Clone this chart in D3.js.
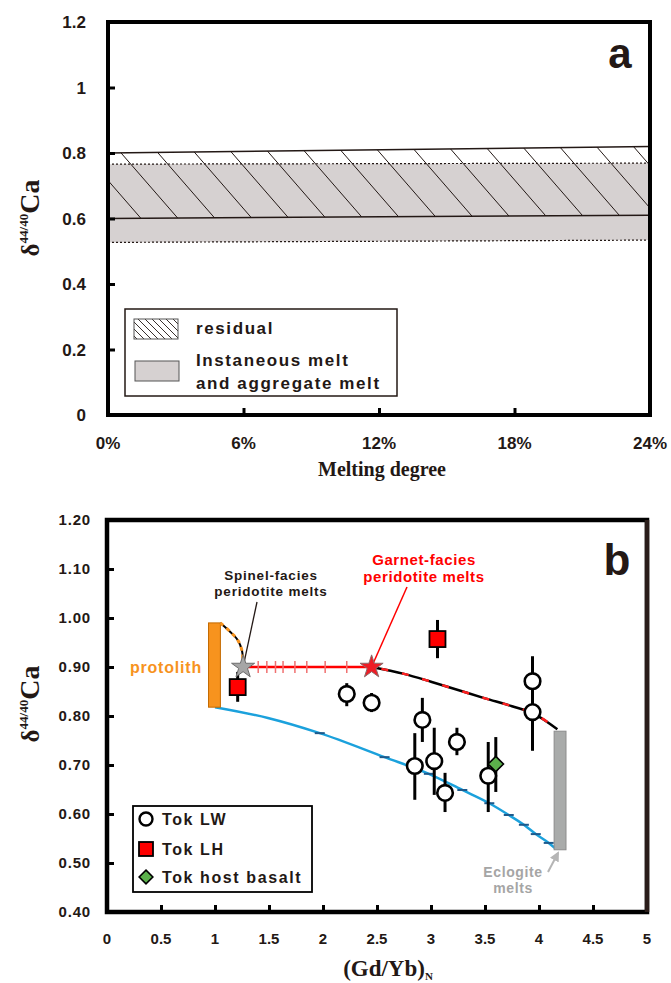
<!DOCTYPE html>
<html>
<head>
<meta charset="utf-8">
<script src="https://cdn.jsdelivr.net/npm/d3@7"></script>
<style>
  body { margin: 0; background: #fff; }
  text { font-family: "Liberation Sans", Arial, sans-serif; font-weight: bold; fill: #231815; }
  .serif { font-family: "Liberation Serif", "Times New Roman", serif; }
</style>
</head>
<body>
<svg id="fig" width="671" height="983"></svg>
<script>
// ---- panel a data ----
let degTicks = [0, 6, 12, 18, 24];
let degLabels = ['0%', '6%', '12%', '18%', '24%'];
let caTicksA = [0, 0.2, 0.4, 0.6, 0.8, 1.0, 1.2];
let caLabelsA = ['0', '0.2', '0.4', '0.6', '0.8', '1', '1.2'];
let bandDeg = [0, 24];
let residualTop = [0.80, 0.82];
let residualBot = [0.60, 0.61];
let meltTop = [0.766, 0.769];
let meltBot = [0.527, 0.534];

// ---- panel b data ----
let gdTicks = [0, 0.5, 1, 1.5, 2, 2.5, 3, 3.5, 4, 4.5, 5];
let caTicksB = [0.4, 0.5, 0.6, 0.7, 0.8, 0.9, 1.0, 1.1, 1.2];

let lwGd = [2.22, 2.45, 2.92, 2.85, 3.03, 3.13, 3.24, 3.53, 3.94, 3.94];
let lwCa = [0.845, 0.827, 0.792, 0.698, 0.708, 0.643, 0.747, 0.678, 0.871, 0.808];
let lwLo = [0.820, 0.808, 0.747, 0.629, 0.639, 0.604, 0.720, 0.604, 0.840, 0.729];
let lwHi = [0.867, 0.847, 0.837, 0.765, 0.776, 0.684, 0.776, 0.747, 0.922, 0.850];

let lhGd = [1.21, 3.06];
let lhCa = [0.859, 0.957];
let lhLo = [0.829, 0.918];
let lhHi = [0.890, 0.996];

let hostGd = [3.60];
let hostCa = [0.702];
let hostLo = [0.645];
let hostHi = [0.757];

let protolithGd = [0.94, 1.05];
let protolithCa = [0.818, 0.99];
let eclogiteGd = [4.14, 4.25];
let eclogiteCa = [0.527, 0.769];

let spinelGd = [1.05, 1.14, 1.21, 1.25, 1.26];
let spinelCa = [0.99, 0.972, 0.955, 0.933, 0.90];

let stepGd = [1.26, 2.45];
let stepCa = [0.90, 0.90];
let stepTicks = [1.40, 1.48, 1.56, 1.63, 1.74, 1.85, 2.02, 2.22];

let garnetGd = [2.45, 2.75, 3.0, 3.25, 3.5, 3.75, 3.95, 4.17];
let garnetCa = [0.90, 0.886, 0.870, 0.853, 0.836, 0.820, 0.805, 0.773];

let eclGd = [1.0, 1.49, 1.97, 2.57, 2.98, 3.29, 3.54, 3.72, 3.86, 3.97, 4.09, 4.15];
let eclCa = [0.818, 0.796, 0.765, 0.716, 0.682, 0.649, 0.622, 0.598, 0.578, 0.559, 0.541, 0.530];
let eclTickIdx = [2, 3, 4, 5, 6, 7, 8, 9, 10];

let ink = '#231815';
let svg = d3.select('#fig');

// ================= panel a =================
let xa = d3.scaleLinear().domain([0, 24]).range([108, 650]);
let ya = d3.scaleLinear().domain([0, 1.2]).range([415, 22]);
let ga = svg.append('g');

let bandArea = d3.area()
    .x(d => xa(d[0]))
    .y0(d => ya(d[1]))
    .y1(d => ya(d[2]));
let lineA = d3.line().x(d => xa(d[0])).y(d => ya(d[1]));

ga.append('path')
    .datum(bandDeg.map((d, i) => [d, meltBot[i], meltTop[i]]))
    .attr('d', bandArea)
    .attr('fill', '#d6d1d1');

[meltTop, meltBot].forEach(s => {
    ga.append('path')
        .datum(bandDeg.map((d, i) => [d, s[i]]))
        .attr('d', lineA)
        .attr('fill', 'none')
        .attr('stroke', ink)
        .attr('stroke-width', 1.2)
        .attr('stroke-dasharray', '2,2');
});

// residual hatch
ga.append('clipPath').attr('id', 'resClip')
    .append('path')
    .datum(bandDeg.map((d, i) => [d, residualBot[i], residualTop[i]]))
    .attr('d', bandArea);

let hatch = ga.append('g').attr('clip-path', 'url(#resClip)');
let hy0 = ya(0.86), hy1 = ya(0.55);
for (let x = 30; x < 660; x += 37) {
    hatch.append('line')
        .attr('x1', x).attr('y1', hy0)
        .attr('x2', x + (hy1 - hy0) * 0.87).attr('y2', hy1)
        .attr('stroke', ink).attr('stroke-width', 1);
}

[residualTop, residualBot].forEach(s => {
    ga.append('path')
        .datum(bandDeg.map((d, i) => [d, s[i]]))
        .attr('d', lineA)
        .attr('fill', 'none')
        .attr('stroke', ink)
        .attr('stroke-width', 1.5);
});

ga.append('rect')
    .attr('x', xa(0)).attr('y', ya(1.2))
    .attr('width', xa(24) - xa(0)).attr('height', ya(0) - ya(1.2))
    .attr('fill', 'none').attr('stroke', '#000').attr('stroke-width', 4);

let axA = ga.append('g').attr('transform', 'translate(' + xa(0) + ',0)')
    .call(d3.axisLeft(ya).tickValues(caTicksA.slice(1, -1)).tickSize(-7).tickFormat(''));
let axAx = ga.append('g').attr('transform', 'translate(0,' + ya(0) + ')')
    .call(d3.axisBottom(xa).tickValues(degTicks.slice(1, -1)).tickSize(-7).tickFormat(''));
[axA, axAx].forEach(a => {
    a.select('.domain').remove();
    a.selectAll('line').attr('stroke', '#000').attr('stroke-width', 3);
});

ga.selectAll('.ylabA').data(caTicksA).enter().append('text')
    .attr('x', 86).attr('y', d => ya(d) + 6)
    .attr('text-anchor', 'end').style('font-size', '17px')
    .text((d, i) => caLabelsA[i]);

ga.selectAll('.xlabA').data(degTicks).enter().append('text')
    .attr('x', d => xa(d)).attr('y', 449)
    .attr('text-anchor', 'middle').style('font-size', '17px')
    .text((d, i) => degLabels[i]);

ga.append('text').attr('class', 'serif')
    .attr('x', 382).attr('y', 476)
    .attr('text-anchor', 'middle').style('font-size', '20px')
    .text('Melting degree');

function caLabel(g, cx, cy) {
    let t = g.append('text').attr('class', 'serif')
        .attr('transform', 'translate(' + cx + ',' + cy + ') rotate(-90)')
        .attr('text-anchor', 'middle');
    t.append('tspan').style('font-size', '25px').text('δ');
    t.append('tspan').style('font-size', '13px').attr('dy', -11).text('44/40');
    t.append('tspan').style('font-size', '28px').attr('dy', 11).text('Ca');
}
caLabel(ga, 39, 218);

ga.append('text').attr('x', 620).attr('y', 68)
    .attr('text-anchor', 'middle').style('font-size', '42px').text('a');

// legend a
let la = ga.append('g');
la.append('rect').attr('x', 125).attr('y', 309).attr('width', 272).attr('height', 87)
    .attr('fill', '#fff').attr('stroke', ink).attr('stroke-width', 1.5);
la.append('clipPath').attr('id', 'swClip')
    .append('rect').attr('x', 134).attr('y', 319).attr('width', 44).attr('height', 20);
let sw = la.append('g').attr('clip-path', 'url(#swClip)');
for (let x = 110; x < 190; x += 7) {
    sw.append('line').attr('x1', x).attr('y1', 319).attr('x2', x + 20).attr('y2', 339)
        .attr('stroke', ink).attr('stroke-width', 0.9);
}
la.append('rect').attr('x', 134).attr('y', 319).attr('width', 44).attr('height', 20)
    .attr('fill', 'none').attr('stroke', '#555').attr('stroke-width', 1);
la.append('rect').attr('x', 135).attr('y', 361).attr('width', 44).attr('height', 20)
    .attr('fill', '#d6d1d1').attr('stroke', '#555').attr('stroke-width', 1);
[['residual', 334], ['Instaneous melt', 366], ['and aggregate melt', 389]].forEach(r => {
    la.append('text').attr('x', 196).attr('y', r[1])
        .style('font-size', '17px').style('letter-spacing', '1.6px').text(r[0]);
});

// ================= panel b =================
let xb = d3.scaleLinear().domain([0, 5]).range([107, 647]);
let yb = d3.scaleLinear().domain([0.4, 1.2]).range([912, 520]);
let gb = svg.append('g');

let zip = (a, b) => a.map((d, i) => [d, b[i]]);
let lineB = d3.line().x(d => xb(d[0])).y(d => yb(d[1]));
let lineBm = d3.line().x(d => xb(d[0])).y(d => yb(d[1])).curve(d3.curveMonotoneX);
let lineBc = d3.line().x(d => xb(d[0])).y(d => yb(d[1])).curve(d3.curveCatmullRom);

// eclogite mixing line (blue)
let eclPts = zip(eclGd, eclCa);
gb.append('path').datum(eclPts)
    .attr('d', lineBm)
    .attr('fill', 'none').attr('stroke', '#1ba1dc').attr('stroke-width', 2.5);
gb.selectAll('.eclTick').data(eclTickIdx.map(i => eclPts[i])).enter().append('line')
    .attr('x1', d => xb(d[0]) - 5).attr('x2', d => xb(d[0]) + 5)
    .attr('y1', d => yb(d[1])).attr('y2', d => yb(d[1]))
    .attr('stroke', '#1d5a8c').attr('stroke-width', 2);

// bars
gb.append('rect')
    .attr('x', xb(protolithGd[0])).attr('y', yb(protolithCa[1]))
    .attr('width', xb(protolithGd[1]) - xb(protolithGd[0]))
    .attr('height', yb(protolithCa[0]) - yb(protolithCa[1]))
    .attr('fill', '#f7931e').attr('stroke', '#c46a00').attr('stroke-width', 1);
gb.append('rect')
    .attr('x', xb(eclogiteGd[0])).attr('y', yb(eclogiteCa[1]))
    .attr('width', xb(eclogiteGd[1]) - xb(eclogiteGd[0]))
    .attr('height', yb(eclogiteCa[0]) - yb(eclogiteCa[1]))
    .attr('fill', '#a9abaa').attr('stroke', '#8c8c8c').attr('stroke-width', 1);

// spinel-facies curve
let spPts = zip(spinelGd, spinelCa);
gb.append('path').datum(spPts).attr('d', lineBc)
    .attr('fill', 'none').attr('stroke', '#000').attr('stroke-width', 2);
gb.append('path').datum(spPts).attr('d', lineBc)
    .attr('fill', 'none').attr('stroke', '#f7931e').attr('stroke-width', 3)
    .attr('stroke-dasharray', '4,4');

// spinel -> garnet step
gb.append('path').datum(zip(stepGd, stepCa))
    .attr('d', lineB)
    .attr('fill', 'none').attr('stroke', '#ff0000').attr('stroke-width', 2.5);
gb.selectAll('.stepTick').data(stepTicks).enter().append('line')
    .attr('x1', d => xb(d)).attr('x2', d => xb(d))
    .attr('y1', yb(0.90) - 6).attr('y2', yb(0.90) + 6)
    .attr('stroke', '#f07070').attr('stroke-width', 1.5);

// garnet-facies curve
let gaPts = zip(garnetGd, garnetCa);
gb.append('path').datum(gaPts).attr('d', lineBm)
    .attr('fill', 'none').attr('stroke', '#000').attr('stroke-width', 2.5);
gb.append('path').datum(gaPts).attr('d', lineBm)
    .attr('fill', 'none').attr('stroke', '#ff2020').attr('stroke-width', 2.5)
    .attr('stroke-dasharray', '7,14').attr('stroke-dashoffset', -10);

// labels and leaders
gb.append('line').attr('x1', 257).attr('y1', 602).attr('x2', xb(1.27)).attr('y2', yb(0.91))
    .attr('stroke', ink).attr('stroke-width', 1.3);
gb.append('line').attr('x1', 407).attr('y1', 587).attr('x2', xb(2.46)).attr('y2', yb(0.905))
    .attr('stroke', '#ff0000').attr('stroke-width', 1.5);

[['Spinel-facies', 580], ['peridotite melts', 596]].forEach(r => {
    gb.append('text').attr('x', 271).attr('y', r[1]).attr('text-anchor', 'middle')
        .style('font-size', '13.5px').style('letter-spacing', '0.8px').text(r[0]);
});
[['Garnet-facies', 565], ['peridotite melts', 582]].forEach(r => {
    gb.append('text').attr('x', 424).attr('y', r[1]).attr('text-anchor', 'middle')
        .style('font-size', '15px').style('letter-spacing', '0.6px')
        .style('fill', '#ff0000').text(r[0]);
});
gb.append('text').attr('x', 202).attr('y', 673).attr('text-anchor', 'end')
    .style('font-size', '16px').style('letter-spacing', '0.8px')
    .style('fill', '#f7931e').text('protolith');

// eclogite label + arrow
gb.append('defs').append('marker').attr('id', 'arr')
    .attr('viewBox', '0 0 10 10').attr('refX', 8).attr('refY', 5)
    .attr('markerWidth', 5).attr('markerHeight', 5).attr('orient', 'auto')
    .append('path').attr('d', 'M0,0 L10,5 L0,10 Z').attr('fill', '#b5b5b5');
gb.append('line').attr('x1', 548).attr('y1', 872).attr('x2', 558).attr('y2', 853)
    .attr('stroke', '#b5b5b5').attr('stroke-width', 2).attr('marker-end', 'url(#arr)');
[['Eclogite', 877], ['melts', 893]].forEach(r => {
    gb.append('text').attr('x', 513).attr('y', r[1]).attr('text-anchor', 'middle')
        .style('font-size', '14px').style('letter-spacing', '0.6px')
        .style('fill', '#a5a5a5').text(r[0]);
});

// error bars
function errBars(gd, lo, hi) {
    gb.selectAll(null).data(gd).enter().append('line')
        .attr('x1', d => xb(d)).attr('x2', d => xb(d))
        .attr('y1', (d, i) => yb(lo[i])).attr('y2', (d, i) => yb(hi[i]))
        .attr('stroke', '#000').attr('stroke-width', 3);
}
errBars(lhGd, lhLo, lhHi);
errBars(lwGd, lwLo, lwHi);
errBars(hostGd, hostLo, hostHi);

gb.selectAll('.lw').data(lwGd).enter().append('circle')
    .attr('cx', d => xb(d)).attr('cy', (d, i) => yb(lwCa[i])).attr('r', 7.8)
    .attr('fill', '#fff').attr('stroke', '#000').attr('stroke-width', 2.6);
gb.selectAll('.lh').data(lhGd).enter().append('rect')
    .attr('x', d => xb(d) - 8).attr('y', (d, i) => yb(lhCa[i]) - 8)
    .attr('width', 16).attr('height', 16)
    .attr('fill', '#ff0000').attr('stroke', '#000').attr('stroke-width', 1.8);
gb.selectAll('.host').data(hostGd).enter().append('path')
    .attr('d', d3.symbol(d3.symbolDiamond2, 150))
    .attr('transform', (d, i) => 'translate(' + xb(d) + ',' + yb(hostCa[i]) + ')')
    .attr('fill', '#5bb14b').attr('stroke', '#000').attr('stroke-width', 1.6);

// stars
let starShape = d3.symbol(d3.symbolStar, 165);
gb.append('path').attr('d', starShape)
    .attr('transform', 'translate(' + xb(stepGd[0]) + ',' + yb(stepCa[0]) + ')')
    .attr('fill', '#a6a6a6').attr('stroke', '#6d6d6d').attr('stroke-width', 1);
gb.append('path').attr('d', starShape)
    .attr('transform', 'translate(' + xb(stepGd[1]) + ',' + yb(stepCa[1]) + ')')
    .attr('fill', '#ee1c25').attr('stroke', '#8a6a6a').attr('stroke-width', 1);

// frame + axes b
gb.append('rect')
    .attr('x', xb(0)).attr('y', yb(1.2))
    .attr('width', xb(5) - xb(0)).attr('height', yb(0.4) - yb(1.2))
    .attr('fill', 'none').attr('stroke', '#000').attr('stroke-width', 4.5);
gb.append('line').attr('x1', xb(5)).attr('x2', xb(5)).attr('y1', yb(1.2)).attr('y2', yb(0.4))
    .attr('stroke', '#2a1d1a').attr('stroke-width', 4.5);

let axB = gb.append('g').attr('transform', 'translate(' + xb(0) + ',0)')
    .call(d3.axisLeft(yb).tickValues(caTicksB.slice(1, -1)).tickSize(-7).tickFormat(''));
let axBx = gb.append('g').attr('transform', 'translate(0,' + yb(0.4) + ')')
    .call(d3.axisBottom(xb).tickValues(gdTicks.slice(1, -1)).tickSize(-7).tickFormat(''));
[axB, axBx].forEach(a => {
    a.select('.domain').remove();
    a.selectAll('line').attr('stroke', '#000').attr('stroke-width', 3);
});

gb.selectAll('.ylabB').data(caTicksB).enter().append('text')
    .attr('x', 91).attr('y', d => yb(d) + 5)
    .attr('text-anchor', 'end').style('font-size', '15px').style('letter-spacing', '0.8px')
    .text(d => d.toFixed(2));
gb.selectAll('.xlabB').data(gdTicks).enter().append('text')
    .attr('x', d => xb(d)).attr('y', 944)
    .attr('text-anchor', 'middle').style('font-size', '15px')
    .text(d => d);

let xt = gb.append('text').attr('class', 'serif')
    .attr('x', 388).attr('y', 976).attr('text-anchor', 'middle');
xt.append('tspan').style('font-size', '23px').text('(Gd/Yb)');
xt.append('tspan').style('font-size', '11px').attr('dy', 4).text('N');

caLabel(gb, 39, 704);

gb.append('text').attr('x', 617).attr('y', 575)
    .attr('text-anchor', 'middle').style('font-size', '44px').text('b');

// legend b
let lb = gb.append('g');
lb.append('rect').attr('x', 133).attr('y', 806).attr('width', 179).attr('height', 86)
    .attr('fill', '#fff').attr('stroke', '#000').attr('stroke-width', 1.8);
lb.append('circle').attr('cx', 146).attr('cy', 819).attr('r', 6.5)
    .attr('fill', '#fff').attr('stroke', '#000').attr('stroke-width', 2.4);
lb.append('rect').attr('x', 139).attr('y', 842).attr('width', 14).attr('height', 14)
    .attr('fill', '#ff0000').attr('stroke', '#000').attr('stroke-width', 1.8);
lb.append('path').attr('d', d3.symbol(d3.symbolDiamond2, 120))
    .attr('transform', 'translate(146,877)')
    .attr('fill', '#5bb14b').attr('stroke', '#000').attr('stroke-width', 1.6);
[['Tok LW', 825], ['Tok LH', 855], ['Tok host basalt', 883]].forEach(r => {
    lb.append('text').attr('x', 162).attr('y', r[1])
        .style('font-size', '16px').style('letter-spacing', '1.6px').text(r[0]);
});
</script>
</body>
</html>
